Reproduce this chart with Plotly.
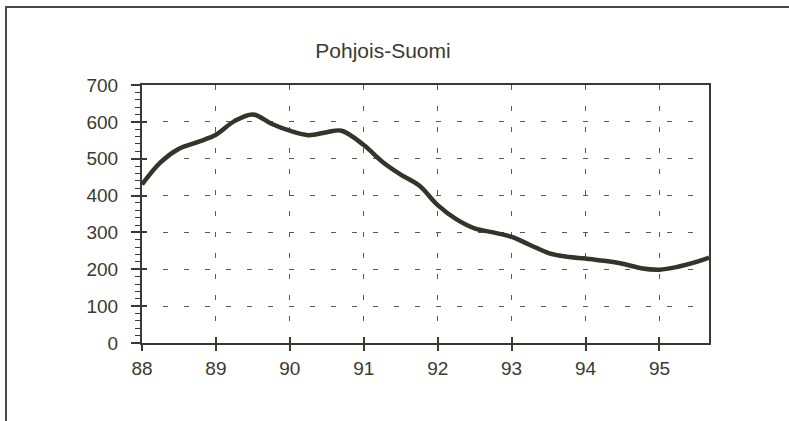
import plotly.graph_objects as go

# Values (decimal year, index level).
YEARS = [88.0, 88.25, 88.5, 88.75, 89.0, 89.25, 89.5, 89.75, 90.0, 90.25,
         90.5, 90.7, 91.0, 91.25, 91.5, 91.75, 92.0, 92.25, 92.5, 92.75,
         93.0, 93.25, 93.5, 93.75, 94.0, 94.25, 94.5, 94.75, 95.0, 95.25,
         95.5, 95.67]
VALUES = [430, 490, 527, 545, 565, 602, 620, 595, 576, 564,
          572, 576, 537, 492, 457, 427, 374, 336, 311, 300,
          288, 266, 244, 234, 229, 223, 215, 203, 199, 207,
          220, 232]
X_TICKS = [88, 89, 90, 91, 92, 93, 94, 95]
Y_TICKS = [0, 100, 200, 300, 400, 500, 600, 700]
TITLE = "Pohjois-Suomi"

INK = "#3a3a32"
GRID = "#5a5a52"
TICK_FONT = dict(family="Liberation Sans Narrow, Arial Narrow, Liberation Sans", size=19, color=INK)

fig = go.Figure()
fig.add_trace(go.Scatter(
    x=YEARS, y=VALUES, mode="lines",
    line=dict(color="#34342b", width=4.5, shape="spline", smoothing=1.0),
    hoverinfo="skip", showlegend=False,
))

fig.update_layout(
    width=789, height=421,
    paper_bgcolor="white", plot_bgcolor="white",
    margin=dict(l=142, r=80, t=85, b=78),
    title=dict(text=TITLE, x=383 / 789, xanchor="center", y=1 - 51 / 421, yanchor="middle",
               font=dict(family="Liberation Sans, Arial", size=21, color=INK)),
    xaxis=dict(
        range=[88, 95.67], tickvals=X_TICKS, ticktext=[str(v) for v in X_TICKS],
        ticks="outside", ticklen=6, tickwidth=1.5, tickcolor=INK,
        showline=True, linecolor=INK, linewidth=2, mirror=True,
        showgrid=True, gridcolor=GRID, gridwidth=1, griddash="5px,16px",
        zeroline=False, tickfont=TICK_FONT, ticklabelstandoff=1,
    ),
    yaxis=dict(
        range=[0, 700], tickvals=Y_TICKS,
        ticks="outside", ticklen=9, tickwidth=1.5, tickcolor=INK,
        minor=dict(dtick=20, ticks="outside", ticklen=5, tickwidth=1, tickcolor=INK, showgrid=False),
        showline=True, linecolor=INK, linewidth=2, mirror=True,
        showgrid=True, gridcolor=GRID, gridwidth=1, griddash="5px,16px",
        zeroline=False, tickfont=TICK_FONT, ticklabelstandoff=9,
    ),
    # overlay axes supply the inner half of the crossing ticks
    xaxis2=dict(overlaying="x", matches="x", tickvals=X_TICKS, ticks="inside", ticklen=6,
                tickwidth=1.5, tickcolor=INK, showticklabels=False, showgrid=False,
                zeroline=False, showline=False),
    yaxis2=dict(overlaying="y", matches="y", side="left", tickvals=Y_TICKS, ticks="inside",
                ticklen=5, tickwidth=1.5, tickcolor=INK, showticklabels=False,
                showgrid=False, zeroline=False, showline=False),
)
fig.add_trace(go.Scatter(x=[88], y=[0], xaxis="x2", yaxis="y2", mode="markers",
                         marker=dict(opacity=0), hoverinfo="skip", showlegend=False))

# outer frame of the scanned figure (open to the right and bottom of the crop)
fig.add_shape(type="rect", xref="paper", yref="paper",
              x0=(6 - 142) / 567, x1=(800 - 142) / 567,
              y0=(343 - 440) / 258, y1=(343 - 7) / 258,
              line=dict(color="#4a4a40", width=2), layer="below")

# drop the page's default body margin so the figure sits at the window's corner
fig.write_html("out.html", config={"displayModeBar": False},
               post_script="document.body.style.margin = '0';")
